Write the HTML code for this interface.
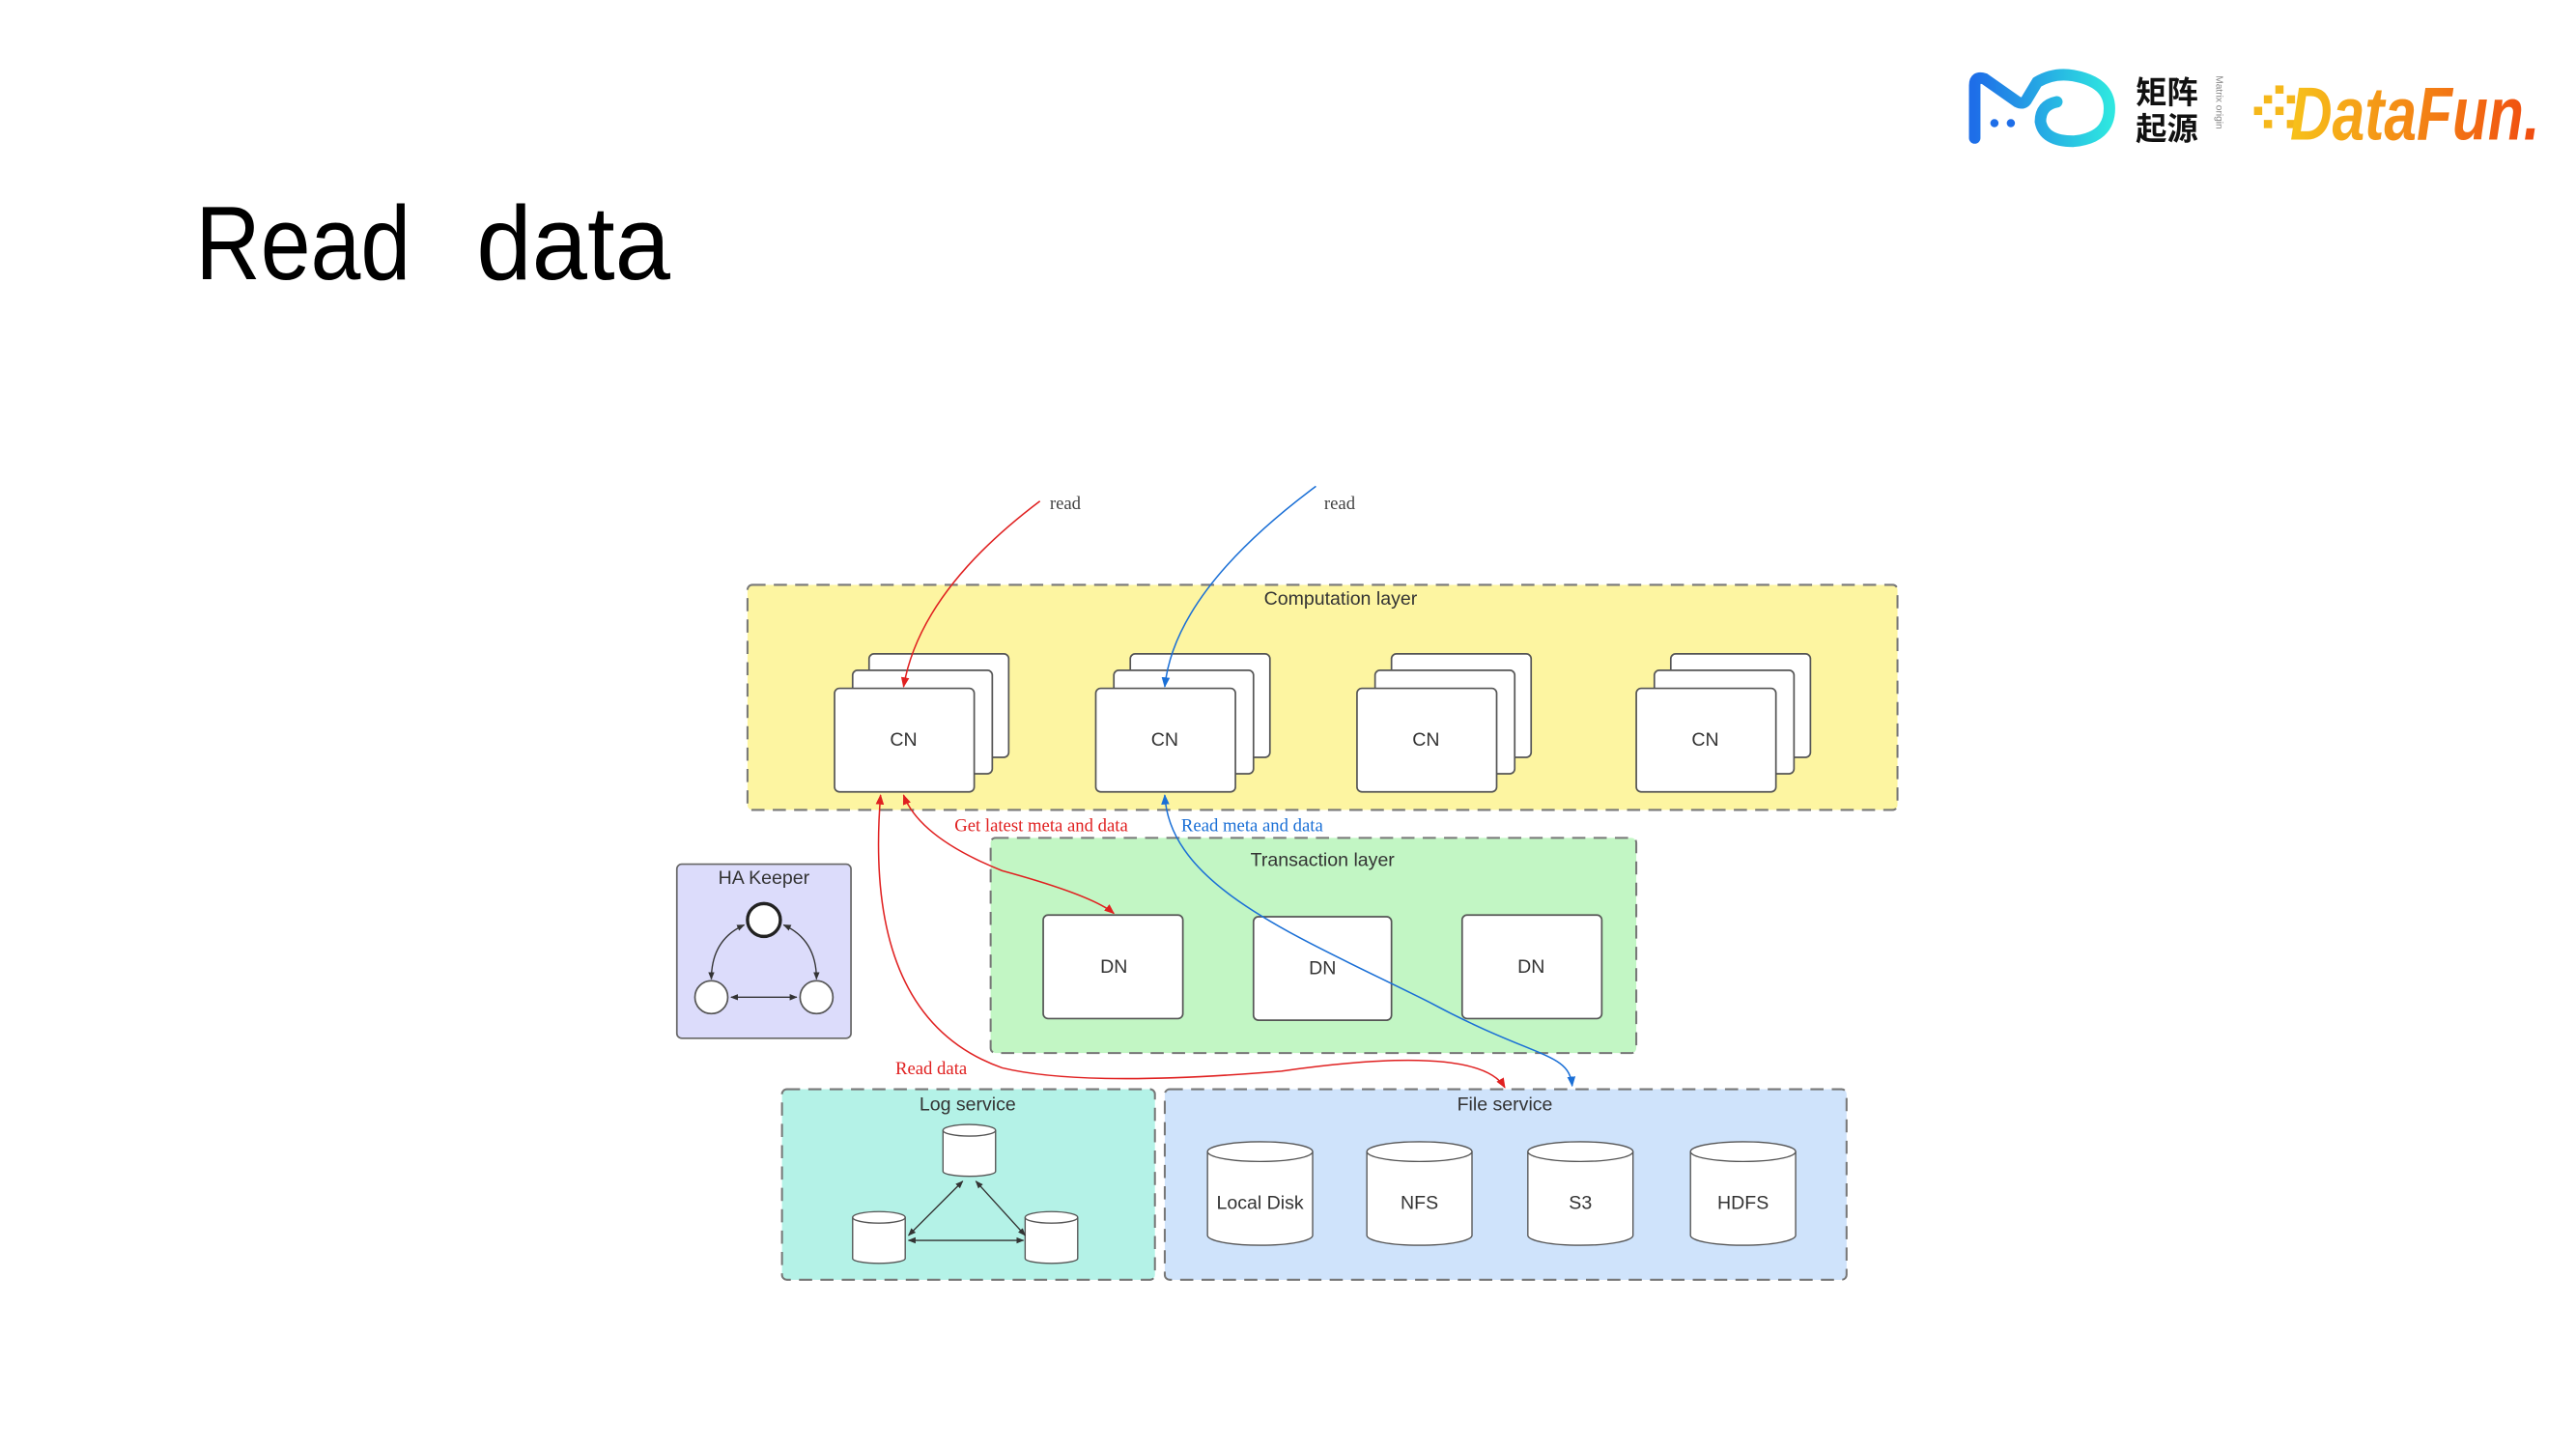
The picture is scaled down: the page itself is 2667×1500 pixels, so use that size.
<!DOCTYPE html>
<html><head><meta charset="utf-8"><style>
html,body{margin:0;padding:0;background:#fff;width:2667px;height:1500px;overflow:hidden}
svg{display:block}
.s{font-family:"Liberation Sans",Arial,sans-serif;font-size:11.5px;fill:#333;text-anchor:middle}
.r{font-family:"Liberation Serif",serif;font-size:11px}
.box{fill:#fff;stroke:#555;stroke-width:1}
.lay{stroke:#777;stroke-width:1.2;stroke-dasharray:8 5}
</style></head><body>
<svg width="2667" height="1500" viewBox="0 0 1568 882" preserveAspectRatio="none" xmlns="http://www.w3.org/2000/svg">
<defs>
<marker id="ar" viewBox="0 0 10 10" refX="9" refY="5" markerWidth="7" markerHeight="7" orient="auto-start-reverse"><path d="M0,1 L10,5 L0,9 z" fill="#e02020"/></marker>
<marker id="ab" viewBox="0 0 10 10" refX="9" refY="5" markerWidth="7" markerHeight="7" orient="auto-start-reverse"><path d="M0,1 L10,5 L0,9 z" fill="#1a6fd6"/></marker>
<marker id="ak" viewBox="0 0 10 10" refX="9" refY="5" markerWidth="6" markerHeight="6" orient="auto-start-reverse"><path d="M0,1 L10,5 L0,9 z" fill="#333"/></marker>
<linearGradient id="mo" x1="0" x2="1"><stop offset="0" stop-color="#1e6ee8"/><stop offset="1" stop-color="#2ee6e0"/></linearGradient>
<linearGradient id="df" x1="0" x2="1"><stop offset="0" stop-color="#f7c21a"/><stop offset="1" stop-color="#f04a10"/></linearGradient>
</defs>

<text x="119" y="170" font-family="'Liberation Sans',sans-serif" font-size="64" fill="#000" textLength="131" lengthAdjust="spacingAndGlyphs">Read</text>
<text x="290" y="170" font-family="'Liberation Sans',sans-serif" font-size="64" fill="#000" textLength="118" lengthAdjust="spacingAndGlyphs">data</text>

<path d="M1202,84 V52 Q1202,46 1208,48 L1228,62 Q1232,64 1234,60 L1240,50 Q1250,44 1262,46 Q1284,50 1284,66 Q1284,84 1262,86 Q1244,86 1242,74 Q1242,64 1252,62" fill="none" stroke="url(#mo)" stroke-width="7" stroke-linecap="round"/>
<circle cx="1214" cy="75" r="2.5" fill="#1e6ee8"/><circle cx="1224" cy="75" r="2.5" fill="#1e6ee8"/>
<text x="1300" y="63" font-family="'Noto Sans CJK SC',sans-serif" font-size="19" font-weight="bold" fill="#111">矩阵</text>
<text x="1300" y="85" font-family="'Noto Sans CJK SC',sans-serif" font-size="19" font-weight="bold" fill="#111">起源</text>
<text x="1349" y="46" font-family="'Liberation Sans',sans-serif" font-size="6" fill="#888" transform="rotate(90 1349 46)">Matrix origin</text>
<g fill="#f5b71a"><rect x="1372" y="65" width="5" height="5"/><rect x="1378" y="58" width="5" height="5"/><rect x="1385" y="52" width="5" height="5"/><rect x="1385" y="65" width="5" height="5"/><rect x="1378" y="73" width="5" height="5"/><rect x="1392" y="58" width="5" height="5"/><rect x="1392" y="73" width="5" height="5"/></g>
<text x="1394" y="85" font-family="'Liberation Sans',sans-serif" font-size="46" font-weight="bold" font-style="italic" fill="url(#df)" textLength="152" lengthAdjust="spacingAndGlyphs">DataFun.</text>

<rect x="455" y="356" width="700" height="137" rx="3" fill="#fdf5a1" class="lay"/>
<text x="816" y="368" class="s">Computation layer</text>
<rect x="603" y="510" width="393" height="131" rx="3" fill="#c2f6c4" class="lay"/>
<text x="805" y="527" class="s">Transaction layer</text>
<rect x="412" y="526" width="106" height="106" rx="3" fill="#dcdcfb" stroke="#666" stroke-width="1"/>
<text x="465" y="538" class="s">HA Keeper</text>
<rect x="476" y="663" width="227" height="116" rx="3" fill="#b4f2e7" class="lay"/>
<text x="589" y="676" class="s">Log service</text>
<rect x="709" y="663" width="415" height="116" rx="3" fill="#cfe3fb" class="lay"/>
<text x="916" y="676" class="s">File service</text>

<g>
<rect x="529" y="398" width="85" height="63" rx="3" class="box"/><rect x="519" y="408" width="85" height="63" rx="3" class="box"/><rect x="508" y="419" width="85" height="63" rx="3" class="box"/><text x="550" y="454" class="s">CN</text>
<rect x="688" y="398" width="85" height="63" rx="3" class="box"/><rect x="678" y="408" width="85" height="63" rx="3" class="box"/><rect x="667" y="419" width="85" height="63" rx="3" class="box"/><text x="709" y="454" class="s">CN</text>
<rect x="847" y="398" width="85" height="63" rx="3" class="box"/><rect x="837" y="408" width="85" height="63" rx="3" class="box"/><rect x="826" y="419" width="85" height="63" rx="3" class="box"/><text x="868" y="454" class="s">CN</text>
<rect x="1017" y="398" width="85" height="63" rx="3" class="box"/><rect x="1007" y="408" width="85" height="63" rx="3" class="box"/><rect x="996" y="419" width="85" height="63" rx="3" class="box"/><text x="1038" y="454" class="s">CN</text>
</g>
<rect x="635" y="557" width="85" height="63" rx="3" class="box"/><text x="678" y="592" class="s">DN</text>
<rect x="763" y="558" width="84" height="63" rx="3" class="box"/><text x="805" y="593" class="s">DN</text>
<rect x="890" y="557" width="85" height="63" rx="3" class="box"/><text x="932" y="592" class="s">DN</text>

<ellipse cx="465" cy="560" rx="10" ry="10" fill="#fff" stroke="#222" stroke-width="2"/>
<ellipse cx="433" cy="607" rx="10" ry="10" fill="#fff" stroke="#555"/>
<ellipse cx="497" cy="607" rx="10" ry="10" fill="#fff" stroke="#555"/>
<path d="M453,563 Q433,572 433,596" fill="none" stroke="#333" stroke-width="0.8" marker-start="url(#ak)" marker-end="url(#ak)"/>
<path d="M477,563 Q497,572 497,596" fill="none" stroke="#333" stroke-width="0.8" marker-start="url(#ak)" marker-end="url(#ak)"/>
<line x1="445" y1="607" x2="485" y2="607" stroke="#333" stroke-width="0.8" marker-start="url(#ak)" marker-end="url(#ak)"/>

<g fill="#fff" stroke="#555" stroke-width="0.8">
<path d="M574,688 V713 A16,3 0 0 0 606,713 V688"/><ellipse cx="590" cy="688" rx="16" ry="3.5"/>
<path d="M519,741 V766 A16,3 0 0 0 551,766 V741"/><ellipse cx="535" cy="741" rx="16" ry="3.5"/>
<path d="M624,741 V766 A16,3 0 0 0 656,766 V741"/><ellipse cx="640" cy="741" rx="16" ry="3.5"/>
</g>
<line x1="586" y1="719" x2="553" y2="752" stroke="#333" stroke-width="0.8" marker-start="url(#ak)" marker-end="url(#ak)"/>
<line x1="594" y1="719" x2="624" y2="752" stroke="#333" stroke-width="0.8" marker-start="url(#ak)" marker-end="url(#ak)"/>
<line x1="553" y1="755" x2="623" y2="755" stroke="#333" stroke-width="0.8" marker-start="url(#ak)" marker-end="url(#ak)"/>

<g fill="#fff" stroke="#555" stroke-width="0.8">
<path d="M735,701 V752 A32,6 0 0 0 799,752 V701"/><ellipse cx="767" cy="701" rx="32" ry="6"/>
<path d="M832,701 V752 A32,6 0 0 0 896,752 V701"/><ellipse cx="864" cy="701" rx="32" ry="6"/>
<path d="M930,701 V752 A32,6 0 0 0 994,752 V701"/><ellipse cx="962" cy="701" rx="32" ry="6"/>
<path d="M1029,701 V752 A32,6 0 0 0 1093,752 V701"/><ellipse cx="1061" cy="701" rx="32" ry="6"/>
</g>
<text x="767" y="736" class="s">Local Disk</text>
<text x="864" y="736" class="s">NFS</text>
<text x="962" y="736" class="s">S3</text>
<text x="1061" y="736" class="s">HDFS</text>

<path d="M633,305 Q560,360 550,418" fill="none" stroke="#e02020" stroke-width="0.9" marker-end="url(#ar)"/>
<text x="639" y="310" class="r" fill="#444">read</text>
<path d="M801,296 Q715,360 709,418" fill="none" stroke="#1a6fd6" stroke-width="0.9" marker-end="url(#ab)"/>
<text x="806" y="310" class="r" fill="#444">read</text>

<path d="M550,484 Q560,510 610,530 Q665,545 678,556" fill="none" stroke="#e02020" stroke-width="0.9" marker-start="url(#ar)" marker-end="url(#ar)"/>
<text x="581" y="506" class="r" fill="#e02020">Get latest meta and data</text>
<path d="M709,484 C712,540 790,570 870,610 C935,645 955,640 957,661" fill="none" stroke="#1a6fd6" stroke-width="0.9" marker-start="url(#ab)" marker-end="url(#ab)"/>
<text x="719" y="506" class="r" fill="#1a6fd6">Read meta and data</text>

<path d="M536,484 Q525,620 610,650 Q660,662 780,652 Q900,635 916,662" fill="none" stroke="#e02020" stroke-width="0.9" marker-start="url(#ar)" marker-end="url(#ar)"/>
<text x="545" y="654" class="r" fill="#e02020">Read data</text>
</svg>
</body></html>
